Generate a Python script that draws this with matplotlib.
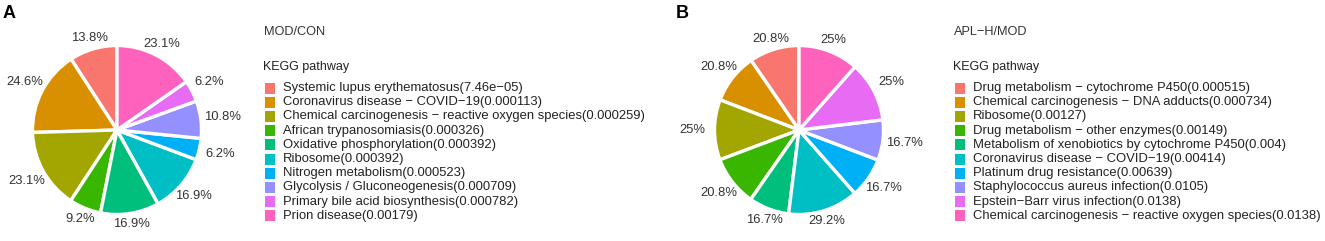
import matplotlib
matplotlib.use("Agg")
import matplotlib.pyplot as plt
from matplotlib.patches import Rectangle
import numpy as np

plt.rcParams['font.family'] = ['Liberation Sans', 'DejaVu Sans']

colors = ["#F8766D", "#D89000", "#A3A500", "#39B600", "#00BF7D",
          "#00BFC4", "#00B0F6", "#9590FF", "#E76BF3", "#FF62BC"]

# Panel A
titleA = "MOD/CON"
pathwaysA = [
    "Systemic lupus erythematosus(7.46e\u221205)",
    "Coronavirus disease \u2212 COVID\u221219(0.000113)",
    "Chemical carcinogenesis \u2212 reactive oxygen species(0.000259)",
    "African trypanosomiasis(0.000326)",
    "Oxidative phosphorylation(0.000392)",
    "Ribosome(0.000392)",
    "Nitrogen metabolism(0.000523)",
    "Glycolysis / Gluconeogenesis(0.000709)",
    "Primary bile acid biosynthesis(0.000782)",
    "Prion disease(0.00179)",
]
valuesA = [13.8, 24.6, 23.1, 9.2, 16.9, 16.9, 6.2, 10.8, 6.2, 23.1]

# Panel B
titleB = "APL\u2212H/MOD"
pathwaysB = [
    "Drug metabolism \u2212 cytochrome P450(0.000515)",
    "Chemical carcinogenesis \u2212 DNA adducts(0.000734)",
    "Ribosome(0.00127)",
    "Drug metabolism \u2212 other enzymes(0.00149)",
    "Metabolism of xenobiotics by cytochrome P450(0.004)",
    "Coronavirus disease \u2212 COVID\u221219(0.00414)",
    "Platinum drug resistance(0.00639)",
    "Staphylococcus aureus infection(0.0105)",
    "Epstein\u2212Barr virus infection(0.0138)",
    "Chemical carcinogenesis \u2212 reactive oxygen species(0.0138)",
]
valuesB = [20.8, 20.8, 25, 20.8, 16.7, 29.2, 16.7, 16.7, 25, 25]

W, H = 1325, 241
fig = plt.figure(figsize=(W / 100, H / 100), dpi=100)

R = 84.5  # pixels


def draw_pie(cx, cy, values, labels_fmt):
    half = 115
    ax = fig.add_axes([(cx - half) / W, (H - cy - half) / H, 2 * half / W, 2 * half / H])
    ax.pie(values, colors=colors, startangle=90, counterclock=True,
           radius=1.0, wedgeprops=dict(edgecolor='white', linewidth=2.4))
    lim = half / R
    ax.set_xlim(-lim, lim)
    ax.set_ylim(-lim, lim)
    ax.set_aspect('equal')
    ax.axis('off')
    total = sum(values)
    start = 90.0
    for v in values:
        ang = start + v / total * 360 / 2
        start += v / total * 360
        t = np.deg2rad(ang)
        r = 1.12 + 0.14 * np.cos(t) ** 2
        ax.text(r * np.cos(t), r * np.sin(t), labels_fmt(v), ha='center', va='center',
                fontsize=9.4, color='#333333', clip_on=False)
    return ax


def fmt(v):
    s = f"{v:.1f}"
    if s.endswith(".0"):
        s = s[:-2]
    return s + "%"


draw_pie(117, 130, valuesA, fmt)
draw_pie(799, 130, valuesB, fmt)

# overlay in pixel coordinates
ov = fig.add_axes([0, 0, 1, 1])
ov.set_xlim(0, W)
ov.set_ylim(H, 0)
ov.axis('off')

ov.text(3, 14, "A", fontsize=13, fontweight='bold', ha='left', va='center', color='black')
ov.text(676, 14, "B", fontsize=13, fontweight='bold', ha='left', va='center', color='black')


def draw_legend(x0, title, items):
    ov.text(x0 + 1, 32, title, fontsize=9.2, ha='left', va='center', color='#333333')
    ov.text(x0, 67, "KEGG pathway", fontsize=9, ha='left', va='center', color='#222222')
    for i, lab in enumerate(items):
        y = 88 + i * 14.2
        ov.add_patch(Rectangle((x0 + 2, y - 5.5), 10, 11, facecolor=colors[i], edgecolor='none'))
        ov.text(x0 + 20, y, lab, fontsize=9.4, ha='left', va='center', color='#222222')


draw_legend(263, titleA, pathwaysA)
draw_legend(953, titleB, pathwaysB)

fig.savefig("out.png", dpi=100)
